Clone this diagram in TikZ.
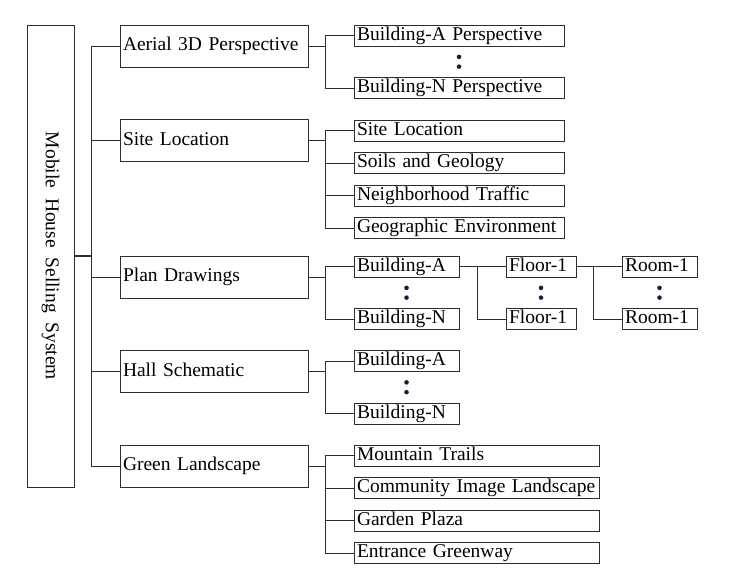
\documentclass[tikz,border=0pt]{standalone}
\usepackage{fontspec}
\setmainfont{Liberation Serif}
\usetikzlibrary{positioning,calc}
\definecolor{linegray}{RGB}{45,45,45}
\definecolor{dotblue}{RGB}{25,32,58}
\tikzstyle{rootbox} = [rectangle, draw=linegray, line width=1pt, minimum width=462pt, minimum height=47pt, inner sep=0pt, rotate=-90, font=\fontsize{19.5}{22}\selectfont]
\tikzstyle{mainbox} = [rectangle, draw=linegray, line width=1pt, minimum height=42pt, text width=182pt, inner xsep=3pt, inner ysep=0pt, align=left, text height=13.5pt, text depth=4.5pt, font=\fontsize{19.5}{22}\selectfont]
\tikzstyle{subbox} = [rectangle, draw=linegray, line width=1pt, minimum height=21pt, inner xsep=3pt, inner ysep=0pt, align=left, text height=13.5pt, text depth=4.5pt, font=\fontsize{19.5}{22}\selectfont]
\tikzstyle{link} = [draw=linegray, line width=1pt]
\tikzstyle{dot} = [fill=dotblue]

\begin{document}
\begin{tikzpicture}[x=1pt,y=-1pt]
\useasboundingbox (0,0) rectangle (749,579);
% root
\node (root) [rootbox] at (50.5,256) {Mobile\ \ House\ \ Selling\ \ System};
\coordinate (trunk) at (91,0);
% first level
\node (aerial) [mainbox] at (214,46) {Aerial 3D Perspective};
\node (site) [mainbox] at (214,140.5) {Site Location};
\node (plan) [mainbox] at (214,277) {Plan Drawings};
\node (hall) [mainbox] at (214,371.5) {Hall Schematic};
\node (green) [mainbox] at (214,466) {Green Landscape};
% aerial
\node (perspA) [subbox, text width=204pt] at (459,35.5) {Building-A Perspective};
\node (perspN) [subbox, text width=204pt] at (459,88) {Building-N Perspective};
% site
\node (location) [subbox, text width=204pt] at (459,130.5) {Site Location};
\node (soils) [subbox, text width=204pt, below=10.5pt of location] {Soils and Geology};
\node (traffic) [subbox, text width=204pt, below=10.5pt of soils] {Neighborhood Traffic};
\node (geo) [subbox, text width=204pt, below=10.5pt of traffic] {Geographic Environment};
% plan
\node (planA) [subbox, text width=99pt] at (406.5,266.5) {Building-A};
\node (planN) [subbox, text width=99pt] at (406.5,319) {Building-N};
\node (floorA) [subbox, text width=64pt] at (541,266.5) {Floor-1};
\node (floorN) [subbox, text width=64pt] at (541,319) {Floor-1};
\node (roomA) [subbox, text width=69pt] at (659.5,266.5) {Room-1};
\node (roomN) [subbox, text width=69pt] at (659.5,319) {Room-1};
% hall
\node (hallA) [subbox, text width=99pt] at (406.5,361) {Building-A};
\node (hallN) [subbox, text width=99pt] at (406.5,413.5) {Building-N};
% green
\node (trails) [subbox, text width=239pt] at (476.5,455.5) {Mountain Trails};
\node (image) [subbox, text width=239pt, below=10.5pt of trails] {Community Image Landscape};
\node (plaza) [subbox, text width=239pt, below=10.5pt of image] {Garden Plaza};
\node (entrance) [subbox, text width=239pt, below=10.5pt of plaza] {Entrance Greenway};

% connectors
\draw[link, line width=2pt] (root.north) -- (trunk |- root.north);
\draw[link] (trunk |- aerial) -- (trunk |- green);
\foreach \n in {aerial,site,plan,hall,green}
  \draw[link] (trunk |- \n) -- (\n.west);
\foreach \c in {perspA,perspN}
  \draw[link] (aerial.east) -- ++(17,0) |- (\c.west);
\foreach \c in {location,soils,traffic,geo}
  \draw[link] (site.east) -- ++(17,0) |- (\c.west);
\foreach \c in {planA,planN}
  \draw[link] (plan.east) -- ++(17,0) |- (\c.west);
\foreach \c in {hallA,hallN}
  \draw[link] (hall.east) -- ++(17,0) |- (\c.west);
\foreach \c in {trails,image,plaza,entrance}
  \draw[link] (green.east) -- ++(17,0) |- (\c.west);
\draw[link] (planA.east) -- (floorA.west);
\draw[link] (planA.east) -- ++(18,0) |- (floorN.west);
\draw[link] (floorA.east) -- (roomA.west);
\draw[link] (floorA.east) -- ++(17,0) |- (roomN.west);

% vertical dots
\foreach \a/\b in {perspA/perspN,planA/planN,floorA/floorN,roomA/roomN,hallA/hallN}{
  \fill[dot] ($(\a.south)!0.34!(\b.north)$) circle (2.3pt);
  \fill[dot] ($(\a.south)!0.66!(\b.north)$) circle (2.3pt);
}
\end{tikzpicture}
\end{document}
